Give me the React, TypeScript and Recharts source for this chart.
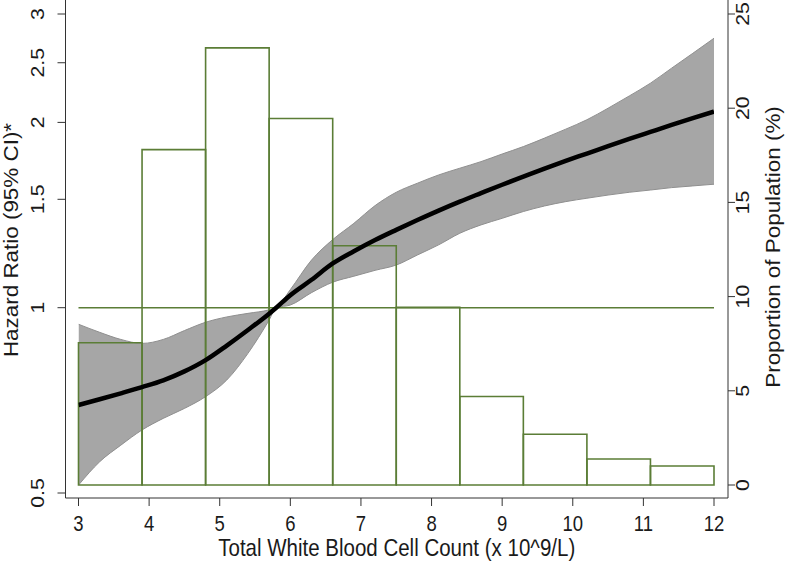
import React from 'react';
import {
  ComposedChart,
  Area,
  Line,
  XAxis,
  YAxis,
  ReferenceArea,
  ReferenceLine,
  Label,
} from 'recharts';

// spline fit, hazard ratio with 95% CI
const wbc = [3, 3.3, 3.6, 3.9, 4.2, 4.5, 4.8, 5.1, 5.4, 5.7, 5.8, 6, 6.3, 6.6, 6.9, 7.2, 7.5, 7.8, 8.1, 8.4, 8.7, 9, 9.3, 9.6, 9.9, 10.2, 10.5, 10.8, 11.1, 11.4, 11.7, 12];
const hr = [0.695, 0.71, 0.726, 0.743, 0.762, 0.788, 0.822, 0.868, 0.92, 0.978, 1.0, 1.048, 1.11, 1.18, 1.235, 1.288, 1.338, 1.388, 1.438, 1.487, 1.535, 1.584, 1.633, 1.683, 1.732, 1.78, 1.83, 1.88, 1.93, 1.981, 2.032, 2.083];
const ciLow = [0.515, 0.562, 0.598, 0.633, 0.661, 0.686, 0.717, 0.763, 0.843, 0.955, 1.0, 1.01, 1.058, 1.1, 1.125, 1.15, 1.173, 1.218, 1.265, 1.321, 1.363, 1.397, 1.433, 1.463, 1.487, 1.506, 1.524, 1.54, 1.553, 1.567, 1.577, 1.587];
const ciHigh = [0.94, 0.912, 0.888, 0.875, 0.888, 0.918, 0.947, 0.966, 0.979, 0.992, 1.0, 1.07, 1.195, 1.29, 1.371, 1.465, 1.54, 1.593, 1.643, 1.685, 1.727, 1.777, 1.827, 1.886, 1.95, 2.02, 2.109, 2.208, 2.316, 2.45, 2.59, 2.74];

// histogram of the population
const binStart = [3, 3.9, 4.8, 5.7, 6.6, 7.5, 8.4, 9.3, 10.2, 11.1];
const binEnd = [3.9, 4.8, 5.7, 6.6, 7.5, 8.4, 9.3, 10.2, 11.1, 12];
const pct = [7.55, 17.8, 23.2, 19.45, 12.7, 9.43, 4.7, 2.69, 1.38, 1.01];

const xTicks = [3, 4, 5, 6, 7, 8, 9, 10, 11, 12];
const hrTicks = [0.5, 1, 1.5, 2, 2.5, 3];
const pctTicks = [0, 5, 10, 15, 20, 25];

const rows = wbc.map((x, i) => ({ x, hr: hr[i], ci: [ciLow[i], ciHigh[i]] }));

const GREEN = '#5b7d36';
const AXIS = '#333';
const FONT = '"Liberation Sans", Arial, Helvetica, sans-serif';
const SY = 1.15;

function Txt({ x, y, children, size, rotate, anchor = 'middle' }: any) {
  const t = rotate
    ? `translate(${x},${y}) scale(1,${SY}) rotate(-90)`
    : `translate(${x},${y}) scale(1,${SY})`;
  return (
    <text transform={t} x={0} y={0} textAnchor={anchor} fontFamily={FONT} fontSize={size} fill="#1a1a1a">
      {children}
    </text>
  );
}

const LeftTick = (p: any) => (
  <Txt x={p.x - 11.5} y={p.y} size={18.5} rotate>
    {p.payload.value}
  </Txt>
);
const RightTick = (p: any) => (
  <Txt x={p.x + 11.5} y={p.y} size={18.5} rotate>
    {p.payload.value}
  </Txt>
);
const BottomTick = (p: any) => (
  <Txt x={p.x} y={p.y + 23} size={18.5}>
    {p.payload.value}
  </Txt>
);

export default function App() {
  return (
    <div style={{ position: 'absolute', left: 0, top: 0, background: '#fff' }}>
      <ComposedChart
        width={791}
        height={562}
        data={rows}
        margin={{ top: 0, right: 3, bottom: 4, left: 5.5 }}
      >
        <XAxis
          dataKey="x"
          type="number"
          domain={[3, 12]}
          ticks={xTicks}
          padding={{ left: 13, right: 14 }}
          height={60}
          tickSize={8}
          stroke={AXIS}
          tick={BottomTick}
          allowDataOverflow
        >
          <Label
            content={({ viewBox }: any) => (
              <Txt x={viewBox.x + viewBox.width / 2} y={viewBox.y + 58} size={20.5}>
                Total White Blood Cell Count (x 10^9/L)
              </Txt>
            )}
          />
        </XAxis>
        <YAxis
          yAxisId="hr"
          scale="log"
          domain={[0.5, 3]}
          ticks={hrTicks}
          padding={{ top: 14, bottom: 5 }}
          width={60}
          tickSize={8}
          stroke={AXIS}
          tick={LeftTick}
          allowDataOverflow
        >
          <Label
            content={({ viewBox }: any) => (
              <Txt x={viewBox.x + 12} y={240} size={19.5} rotate>
                Hazard Ratio (95% CI)*
              </Txt>
            )}
          />
        </YAxis>
        <YAxis
          yAxisId="pct"
          orientation="right"
          domain={[0, 25]}
          ticks={pctTicks}
          padding={{ top: 14, bottom: 13 }}
          width={60}
          tickSize={7}
          stroke={AXIS}
          tick={RightTick}
          allowDataOverflow
        >
          <Label
            content={({ viewBox }: any) => (
              <Txt x={viewBox.x + 52} y={247} size={19.5} rotate>
                Proportion of Population (%)
              </Txt>
            )}
          />
        </YAxis>

        <Area
          yAxisId="hr"
          dataKey="ci"
          type="monotone"
          fill="#a6a6a6"
          fillOpacity={1}
          stroke="#8f8f8f"
          strokeWidth={1}
          isAnimationActive={false}
        />
        {binStart.map((b, i) => (
          <ReferenceArea
            key={b}
            yAxisId="pct"
            x1={b}
            x2={binEnd[i]}
            y1={0}
            y2={pct[i]}
            fill="none"
            fillOpacity={0}
            stroke={GREEN}
            strokeWidth={1.6}
            strokeOpacity={1}
          />
        ))}
        <ReferenceLine
          yAxisId="hr"
          segment={[{ x: 3, y: 1 }, { x: 12, y: 1 }]}
          stroke={GREEN}
          strokeWidth={1.6}
        />
        <Line
          yAxisId="hr"
          dataKey="hr"
          type="monotone"
          stroke="#000"
          strokeWidth={4.5}
          dot={false}
          isAnimationActive={false}
        />
      </ComposedChart>
    </div>
  );
}
